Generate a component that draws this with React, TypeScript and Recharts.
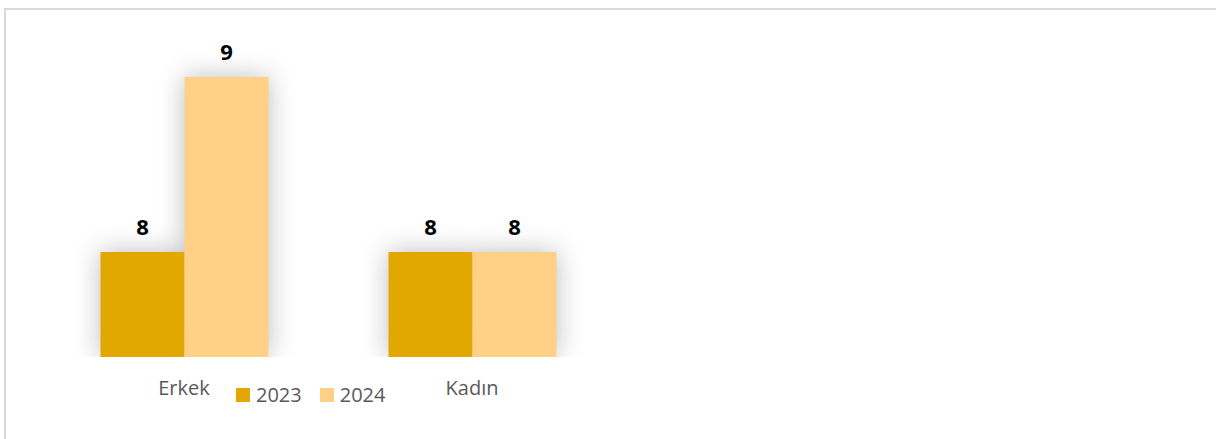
import React from "react";
import { BarChart, Bar, XAxis, YAxis, LabelList, Legend } from "recharts";

const categories = ["Erkek", "Kadın"];
const values2023 = [8, 8];
const values2024 = [9, 8];
const seriesNames = ["2023", "2024"];
const yDomain = [7.4, 9.2];

const data = categories.map((name, i) => ({
  name,
  y2023: values2023[i],
  y2024: values2024[i],
}));

const FONT = "'Open Sans', sans-serif";
const C2023 = "#E2A700";
const C2024 = "#FFD085";

const W = 700;
const H = 420;
const MARGIN = { top: 32, right: 90, bottom: 43, left: 34 };

const ShadowShape = (props: any) => {
  const { x, y, width, height } = props;
  return (
    <rect
      x={x}
      y={y}
      width={width}
      height={height}
      fill="#000"
      fillOpacity={0.26}
      filter="url(#barGlow)"
    />
  );
};

const CategoryTick = (props: any) => {
  const { x, y, payload } = props;
  return (
    <text
      x={x}
      y={y + 30}
      textAnchor="middle"
      fill="#595959"
      fontSize={20}
      fontFamily={FONT}
    >
      {payload.value}
    </text>
  );
};

const renderLegend = (props: any) => {
  const { payload } = props;
  return (
    <div
      style={{
        display: "flex",
        alignItems: "center",
        fontFamily: FONT,
        fontSize: 20,
        color: "#595959",
        whiteSpace: "nowrap",
      }}
    >
      {payload.map((entry: any) => (
        <span
          key={entry.value}
          style={{ display: "flex", alignItems: "center", marginRight: 18 }}
        >
          <span
            style={{
              display: "inline-block",
              width: 14,
              height: 14,
              background: entry.color,
              marginRight: 6,
            }}
          />
          {entry.value}
        </span>
      ))}
    </div>
  );
};

export default function App() {
  return (
    <div
      style={{
        position: "fixed",
        left: 0,
        top: 0,
        width: 1216,
        height: 439,
        overflow: "hidden",
        background: "#fff",
      }}
    >
      <svg width={0} height={0} style={{ position: "absolute" }}>
        <defs>
          <filter id="barGlow" x="-80%" y="-80%" width="260%" height="260%">
            <feGaussianBlur stdDeviation="13" />
          </filter>
        </defs>
      </svg>
      <div
        style={{
          position: "absolute",
          left: 4,
          top: 8,
          width: 1300,
          height: 500,
          border: "2px solid #d9d9d9",
        }}
      >
        {/* shadow layer under the bars */}
        <div
          style={{
            position: "absolute",
            left: 0,
            top: 0,
            width: W,
            height: 350,
            overflow: "hidden",
          }}
        >
          <BarChart
            width={W}
            height={H}
            data={data}
            margin={MARGIN}
            barCategoryGap="21%"
            barGap={0}
          >
            <XAxis dataKey="name" axisLine={false} tickLine={false} tick={false} height={30} />
            <YAxis hide type="number" domain={yDomain} allowDataOverflow />
            <Bar dataKey="y2023" shape={ShadowShape} isAnimationActive={false} />
            <Bar dataKey="y2024" shape={ShadowShape} isAnimationActive={false} />
          </BarChart>
        </div>

        <div style={{ position: "absolute", left: 0, top: 0 }}>
          <BarChart
            width={W}
            height={H}
            data={data}
            margin={MARGIN}
            barCategoryGap="21%"
            barGap={0}
          >
            <XAxis
              dataKey="name"
              axisLine={false}
              tickLine={false}
              tick={<CategoryTick />}
              height={30}
              interval={0}
            />
            <YAxis hide type="number" domain={yDomain} allowDataOverflow />
            <Legend
              verticalAlign="middle"
              align="center"
              layout="horizontal"
              content={renderLegend}
              wrapperStyle={{ left: 230, top: 371, width: "auto", height: "auto" }}
            />
            <Bar dataKey="y2023" name={seriesNames[0]} fill={C2023} isAnimationActive={false}>
              <LabelList
                dataKey="y2023"
                position="top"
                offset={17}
                fill="#000"
                fontSize={22}
                fontWeight="bold"
                fontFamily={FONT}
              />
            </Bar>
            <Bar dataKey="y2024" name={seriesNames[1]} fill={C2024} isAnimationActive={false}>
              <LabelList
                dataKey="y2024"
                position="top"
                offset={17}
                fill="#000"
                fontSize={22}
                fontWeight="bold"
                fontFamily={FONT}
              />
            </Bar>
          </BarChart>
        </div>
      </div>
    </div>
  );
}
